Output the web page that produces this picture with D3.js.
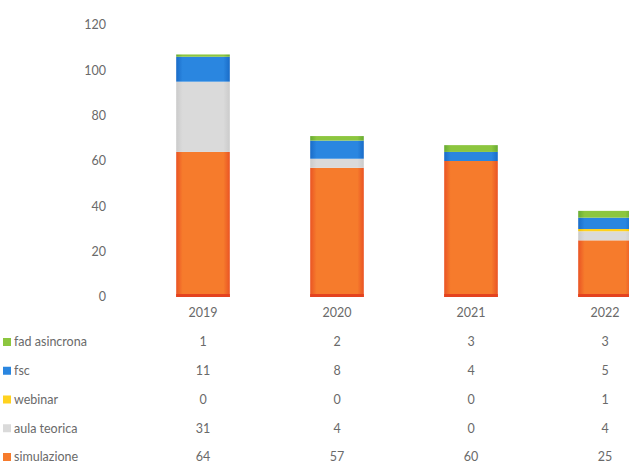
<!DOCTYPE html>
<html>
<head>
<meta charset="utf-8">
<script src="https://cdn.jsdelivr.net/npm/d3@7"></script>
<style>
  body { margin: 0; background: #fff; }
  svg { display: block; }
  text { font-family: Lato, "Open Sans", sans-serif; fill: #6a6a6a; font-size: 12.5px; }
</style>
</head>
<body>
<svg id="chart" width="629" height="468"></svg>
<script>
// ---- data ----
var years = ["2019", "2020", "2021", "2022"];
var series = ["fad asincrona", "fsc", "webinar", "aula teorica", "simulazione"];
var fadAsincrona = [1, 2, 3, 3];
var fsc = [11, 8, 4, 5];
var webinar = [0, 0, 0, 1];
var aulaTeorica = [31, 4, 0, 4];
var simulazione = [64, 57, 60, 25];
var yTicks = [0, 20, 40, 60, 80, 100, 120];

var colors = {
  "simulazione": ["#f67b2c", "#ea5424"],
  "aula teorica": ["#dadada", "#cbcbcb"],
  "webinar": ["#ffd21f", "#f2c200"],
  "fsc": ["#2a86e0", "#1a6cc8"],
  "fad asincrona": ["#8cc63f", "#68ab33"]
};

var values = {
  "fad asincrona": fadAsincrona,
  "fsc": fsc,
  "webinar": webinar,
  "aula teorica": aulaTeorica,
  "simulazione": simulazione
};

var svg = d3.select("#chart");

// plot area (the last column runs past the right edge, as in the original)
var x = d3.scaleBand()
  .domain(years)
  .range([136, 672])
  .paddingInner(0.6)
  .paddingOuter(0.3);

var y = d3.scaleLinear()
  .domain([0, 120])
  .range([297, 25]);

// stack bottom -> top
var stackOrder = ["simulazione", "aula teorica", "webinar", "fsc", "fad asincrona"];
var table = years.map(function(yr, i) {
  var row = { year: yr };
  series.forEach(function(s) { row[s] = values[s][i]; });
  return row;
});
var stacked = d3.stack().keys(stackOrder)(table);

// gradients
var defs = svg.append("defs");
stackOrder.forEach(function(s, k) {
  var g = defs.append("linearGradient")
    .attr("id", "grad" + k)
    .attr("x1", 0).attr("x2", 1).attr("y1", 0).attr("y2", 0);
  g.append("stop").attr("offset", "0%").attr("stop-color", colors[s][1]);
  g.append("stop").attr("offset", "12%").attr("stop-color", colors[s][0]);
  g.append("stop").attr("offset", "88%").attr("stop-color", colors[s][0]);
  g.append("stop").attr("offset", "100%").attr("stop-color", colors[s][1]);
});

// y axis labels (no line)
svg.append("g")
  .attr("class", "yaxis")
  .selectAll("text")
  .data(yTicks)
  .enter()
  .append("text")
  .attr("x", 106)
  .attr("y", function(d) { return y(d); })
  .attr("dy", "0.35em")
  .style("text-anchor", "end")
  .text(function(d) { return d; });

// bars
svg.append("g")
  .attr("class", "bars")
  .selectAll("g")
  .data(stacked)
  .enter()
  .append("g")
  .attr("fill", function(d, k) { return "url(#grad" + k + ")"; })
  .selectAll("rect")
  .data(function(d) { return d; })
  .enter()
  .append("rect")
  .attr("x", function(d) { return x(d.data.year); })
  .attr("width", x.bandwidth())
  .attr("y", function(d) { return y(d[1]); })
  .attr("height", function(d) { return y(d[0]) - y(d[1]); });

// red base line at the foot of the orange bars
svg.append("g")
  .selectAll("rect")
  .data(years)
  .enter()
  .append("rect")
  .attr("x", function(d) { return x(d); })
  .attr("width", x.bandwidth())
  .attr("y", y(0) - 3)
  .attr("height", 3)
  .attr("fill", "#e4431f");

// category labels
var cx = function(d) { return x(d) + x.bandwidth() / 2; };
svg.append("g")
  .selectAll("text")
  .data(years)
  .enter()
  .append("text")
  .attr("x", cx)
  .attr("y", 313)
  .attr("dy", "0.35em")
  .style("text-anchor", "middle")
  .text(function(d) { return d; });

// data table below
var rowY = d3.scalePoint()
  .domain(series)
  .range([342, 457]);

var rows = svg.append("g")
  .attr("class", "datatable")
  .selectAll("g")
  .data(series)
  .enter()
  .append("g")
  .attr("transform", function(s) { return "translate(0," + rowY(s) + ")"; });

rows.append("rect")
  .attr("x", 3)
  .attr("y", -4)
  .attr("width", 8)
  .attr("height", 8)
  .attr("fill", function(s) { return colors[s][0]; });

rows.append("text")
  .attr("x", 14)
  .attr("dy", "0.35em")
  .text(function(s) { return s; });

rows.selectAll(".val")
  .data(function(s) { return values[s].map(function(v, i) { return { v: v, yr: years[i] }; }); })
  .enter()
  .append("text")
  .attr("class", "val")
  .attr("x", function(d) { return cx(d.yr); })
  .attr("dy", "0.35em")
  .style("text-anchor", "middle")
  .text(function(d) { return d.v; });
</script>
</body>
</html>
